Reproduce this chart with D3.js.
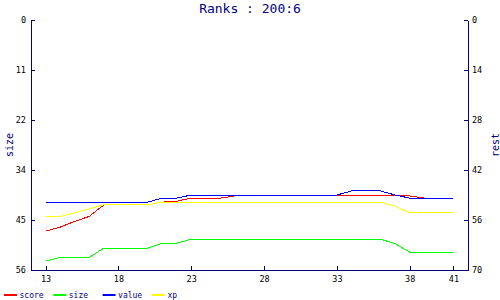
<!DOCTYPE html>
<html>
<head>
<meta charset="utf-8">
<script src="https://cdn.jsdelivr.net/npm/d3@7"></script>
<style>
  body { margin: 0; background: #fff; }
  svg { display: block; font-family: "DejaVu Sans Mono", monospace; }
</style>
</head>
<body>
<div class="chart"></div>
<script>
// rounds (x axis)
const rounds = [13, 14, 15, 16, 17, 18, 19, 20, 21, 22, 23, 24, 25, 26, 27,
  28, 29, 30, 31, 32, 33, 34, 35, 36, 37, 38, 39, 40, 41];

// series, read against the left "size" axis (0 on top)
const score = [47.3, 46.4, 45.1, 44.0, 41.4, 41.4, 41.4, 41.4, 40.8, 40.6, 39.9, 39.9, 39.9, 39.4, 39.4,
  39.4, 39.4, 39.4, 39.4, 39.4, 39.4, 39.4, 39.4, 39.4, 39.4, 39.4, 39.9, 39.9, 39.9];
const size = [54.0, 53.2, 53.2, 53.2, 51.1, 51.1, 51.1, 51.1, 50.0, 50.0, 49.1, 49.1, 49.1, 49.1, 49.1,
  49.1, 49.1, 49.1, 49.1, 49.1, 49.1, 49.1, 49.1, 49.1, 50.1, 52.0, 52.0, 52.0, 52.0];
const value = [40.8, 40.8, 40.8, 40.8, 40.8, 40.8, 40.8, 40.8, 39.9, 39.9, 39.2, 39.2, 39.2, 39.2, 39.2,
  39.2, 39.2, 39.2, 39.2, 39.2, 39.2, 38.3, 38.3, 38.3, 39.2, 39.9, 39.9, 39.9, 39.9];
const xp = [44.0, 44.0, 43.2, 42.3, 41.4, 41.4, 41.4, 41.4, 40.8, 40.8, 40.8, 40.8, 40.8, 40.8, 40.8,
  40.8, 40.8, 40.8, 40.8, 40.8, 40.8, 40.8, 40.8, 40.8, 41.7, 43.2, 43.2, 43.2, 43.2];

const seriesNames = ['score', 'size', 'value', 'xp'];
const xTicks = [13, 18, 23, 28, 33, 38, 41];
const leftTickLabels = ['0', '11', '22', '34', '45', '56'];
const rightTickLabels = ['0', '14', '28', '42', '56', '70'];
const title = 'Ranks : 200:6';

let chart = {
  svg: {},
  config: {
    svgW: 500,
    svgH: 300,
    left: 31,
    right: 468,
    top: 20,
    bottom: 270,
    xMin: 12,
    xMax: 42,
    leftMax: 56,
    rightMax: 70,
    axisColor: '#000080',
    colors: ['#ff0000', '#00ff00', '#0000ff', '#ffff00']
  },
  init: function () {
    this.svg = d3.select('.chart').append('svg')
      .attr('width', this.config.svgW)
      .attr('height', this.config.svgH);
    this.scales();
    this.axes();
    this.lines();
    this.legend();
  },
  scales: function () {
    let c = this.config;
    this.x = d3.scaleLinear().domain([c.xMin, c.xMax]).range([c.left, c.right]);
    this.yL = d3.scaleLinear().domain([0, c.leftMax]).range([c.top, c.bottom]);
    this.yR = d3.scaleLinear().domain([0, c.rightMax]).range([c.top, c.bottom]);
  },
  axes: function () {
    let c = this.config;
    let svg = this.svg;
    let leftVals = leftTickLabels.map((d, i) => i * c.leftMax / (leftTickLabels.length - 1));
    let rightVals = rightTickLabels.map((d, i) => i * c.rightMax / (rightTickLabels.length - 1));

    // 左軸
    svg.append('g')
      .attr('transform', `translate(${c.left},0)`)
      .call(d3.axisLeft(this.yL).tickValues(leftVals)
        .tickFormat((d, i) => leftTickLabels[i])
        .tickSizeInner(-4).tickSizeOuter(0).tickPadding(5));
    // 右軸
    svg.append('g')
      .attr('transform', `translate(${c.right},0)`)
      .call(d3.axisRight(this.yR).tickValues(rightVals)
        .tickFormat((d, i) => rightTickLabels[i])
        .tickSizeInner(-4).tickSizeOuter(0).tickPadding(4));
    // 下軸
    svg.append('g')
      .attr('transform', `translate(0,${c.bottom})`)
      .call(d3.axisBottom(this.x).tickValues(xTicks)
        .tickSizeInner(-4).tickSizeOuter(0).tickPadding(6));

    svg.selectAll('.domain, .tick line')
      .attr('stroke', c.axisColor)
      .attr('shape-rendering', 'crispEdges');
    svg.selectAll('.tick text')
      .attr('fill', '#000')
      .attr('font-family', '"DejaVu Sans Mono", monospace')
      .attr('font-size', 8.5);

    // 標題
    svg.append('text')
      .attr('x', c.svgW / 2)
      .attr('y', 13)
      .attr('text-anchor', 'middle')
      .attr('font-size', 13)
      .attr('fill', c.axisColor)
      .text(title);
    // 軸標題
    svg.append('text')
      .attr('transform', `translate(12.5,${(c.top + c.bottom) / 2}) rotate(-90)`)
      .attr('text-anchor', 'middle')
      .attr('font-size', 10)
      .attr('fill', c.axisColor)
      .text('size');
    svg.append('text')
      .attr('transform', `translate(499,${(c.top + c.bottom) / 2}) rotate(-90)`)
      .attr('text-anchor', 'middle')
      .attr('font-size', 10)
      .attr('fill', c.axisColor)
      .text('rest');
  },
  lines: function () {
    let x = this.x, y = this.yL;
    let all = [score, size, value, xp];
    let line = d3.line()
      .x((d, i) => x(rounds[i]))
      .y(d => y(d));
    this.svg.selectAll('path.series')
      .data(all)
      .enter()
      .append('path')
      .attr('class', 'series')
      .attr('fill', 'none')
      .attr('stroke', (d, i) => this.config.colors[i])
      .attr('stroke-width', 1)
      .attr('shape-rendering', 'crispEdges')
      .attr('d', line);
  },
  legend: function () {
    let c = this.config;
    let items = this.svg.selectAll('g.legend')
      .data(seriesNames)
      .enter()
      .append('g')
      .attr('class', 'legend')
      .attr('transform', (d, i) => `translate(${4 + i * 49.3},0)`);
    items.append('line')
      .attr('x1', 0).attr('x2', 13)
      .attr('y1', 295).attr('y2', 295)
      .attr('stroke', (d, i) => c.colors[i])
      .attr('stroke-width', 2);
    items.append('text')
      .attr('x', 15.5)
      .attr('y', 297.5)
      .attr('font-size', 8)
      .attr('fill', c.axisColor)
      .text(d => d);
  }
};

chart.init();
</script>
</body>
</html>
